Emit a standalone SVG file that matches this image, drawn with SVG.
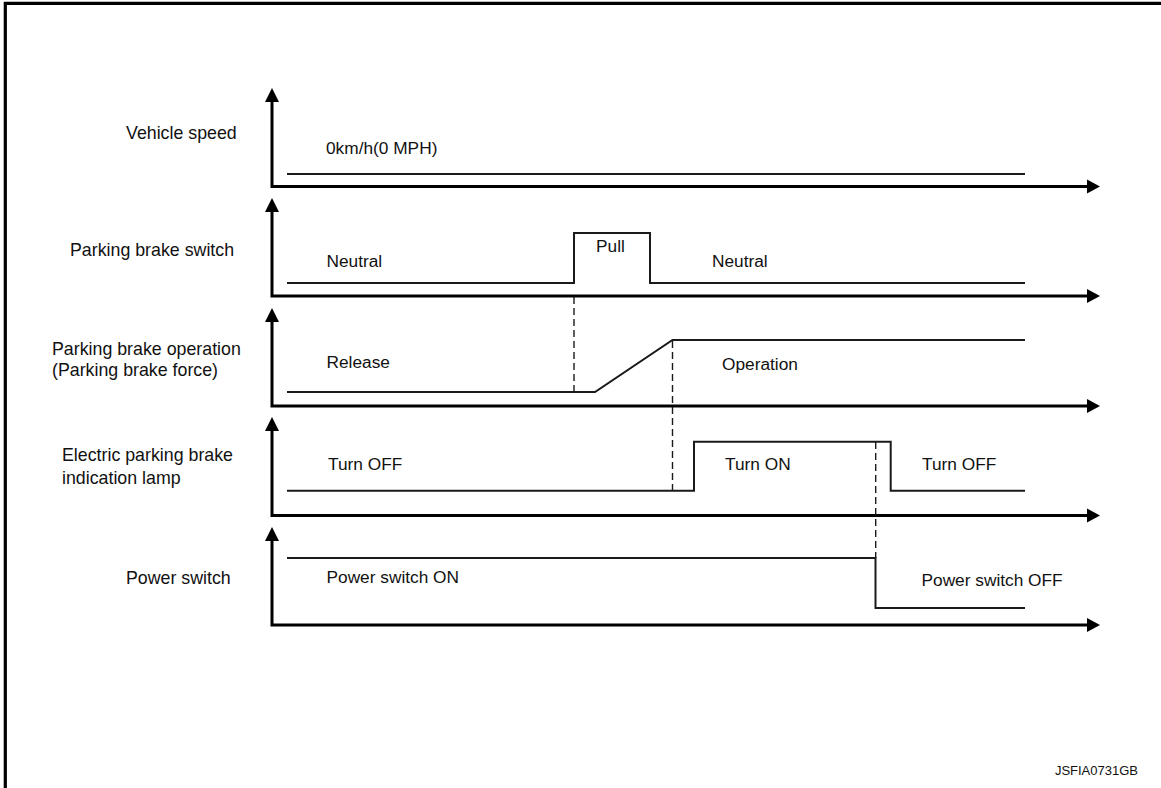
<svg xmlns="http://www.w3.org/2000/svg" width="1161" height="788" viewBox="0 0 1161 788">
<style>
text{font-family:"Liberation Sans",Arial,sans-serif;font-size:17.3px;fill:#111}
.lbl{font-size:17.8px}
.ax{fill:none;stroke:#000;stroke-width:3}
.sig{fill:none;stroke:#1a1a1a;stroke-width:2}
.dash{fill:none;stroke:#1a1a1a;stroke-width:1.4;stroke-dasharray:7,4}
.ah{fill:#000}
.code{font-size:13px}
</style>
<rect width="1161" height="788" fill="#fff"/>
<path d="M5.3,788 V3.3 H1161" fill="none" stroke="#000" stroke-width="3.2"/>
<g id="axes">
<path class="ax" d="M272,100 V186.5 H1089"/>
<polygon class="ah" points="272,88 265,102 279,102"/>
<polygon class="ah" points="1100,186.5 1087,179.5 1087,193.5"/>
<path class="ax" d="M272,210 V296 H1089"/>
<polygon class="ah" points="272,198 265,212 279,212"/>
<polygon class="ah" points="1100,296 1087,289 1087,303"/>
<path class="ax" d="M272,320 V406 H1089"/>
<polygon class="ah" points="272,308 265,322 279,322"/>
<polygon class="ah" points="1100,406 1087,399 1087,413"/>
<path class="ax" d="M272,429 V515.5 H1089"/>
<polygon class="ah" points="272,417 265,431 279,431"/>
<polygon class="ah" points="1100,515.5 1087,508.5 1087,522.5"/>
<path class="ax" d="M272,539 V625 H1089"/>
<polygon class="ah" points="272,527 265,541 279,541"/>
<polygon class="ah" points="1100,625 1087,618 1087,632"/>
</g>
<g id="labels">
<text class="lbl" x="126" y="139">Vehicle speed</text>
<text class="lbl" x="70" y="256">Parking brake switch</text>
<text class="lbl" x="52" y="355">Parking brake operation</text>
<text class="lbl" x="52" y="376">(Parking brake force)</text>
<text class="lbl" x="62" y="461">Electric parking brake</text>
<text class="lbl" x="62" y="484">indication lamp</text>
<text class="lbl" x="126" y="584">Power switch</text>
</g>
<g id="signal-vehicle-speed">
<path class="sig" d="M287,174 H1025"/>
<text x="326" y="154">0km/h(0 MPH)</text>
</g>
<g id="signal-parking-brake-switch">
<path class="sig" d="M287,283 H574 V233 H650 V283 H1025"/>
<text x="326.5" y="267">Neutral</text>
<text x="596" y="252">Pull</text>
<text x="712" y="267">Neutral</text>
</g>
<g id="signal-parking-brake-operation">
<path class="sig" d="M287,392 H595 L672.5,340 H1025"/>
<text x="326.5" y="368">Release</text>
<text x="722" y="370">Operation</text>
</g>
<g id="signal-indication-lamp">
<path class="sig" d="M287,490.7 H694 V441.7 H890.7 V490.7 H1025"/>
<text x="328" y="470">Turn OFF</text>
<text x="725" y="470">Turn ON</text>
<text x="922" y="470">Turn OFF</text>
</g>
<g id="signal-power-switch">
<path class="sig" d="M287,558 H875.5 V608 H1025"/>
<text x="326.5" y="583">Power switch ON</text>
<text x="921.5" y="586">Power switch OFF</text>
</g>
<g id="connectors">
<path class="dash" d="M574,297 V392"/>
<path class="dash" d="M672.5,341 V490"/>
<path class="dash" d="M875.7,442 V558"/>
</g>
<text class="code" x="1138" y="775" text-anchor="end">JSFIA0731GB</text>
</svg>
